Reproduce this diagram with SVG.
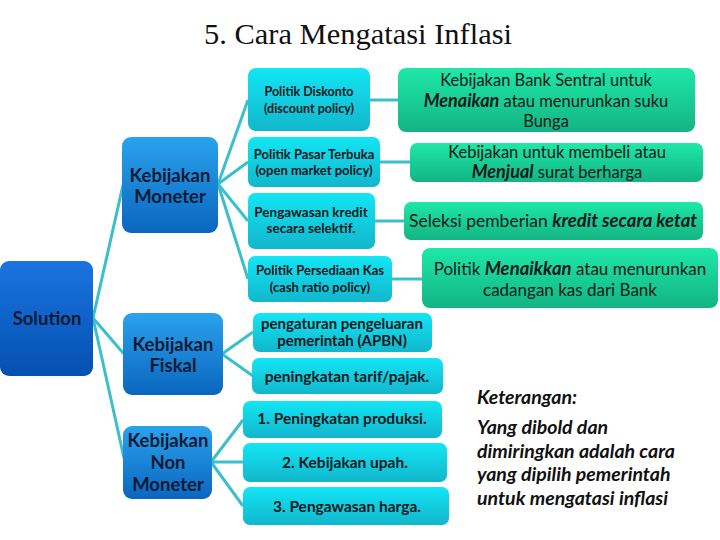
<svg xmlns="http://www.w3.org/2000/svg" width="720" height="540" viewBox="0 0 720 540">
<defs>
<linearGradient id="gSol" x1="0" y1="0" x2="0" y2="1"><stop offset="0" stop-color="#1a74e0"/><stop offset="1" stop-color="#0450b0"/></linearGradient>
<linearGradient id="gBlue" x1="0" y1="0" x2="0" y2="1"><stop offset="0" stop-color="#2aa2ec"/><stop offset="1" stop-color="#0a66c0"/></linearGradient>
<linearGradient id="gCyan" x1="0" y1="0" x2="0" y2="1"><stop offset="0" stop-color="#12e6f4"/><stop offset="1" stop-color="#12b6cc"/></linearGradient>
<linearGradient id="gGreen" x1="0" y1="0" x2="0" y2="1"><stop offset="0" stop-color="#1ee8a8"/><stop offset="1" stop-color="#13b483"/></linearGradient>
</defs>
<style>
.sol{fill:url(#gSol)}
.blue{fill:url(#gBlue)}
.cyan{fill:url(#gCyan)}
.green{fill:url(#gGreen)}
.bt{font-family:Lato,"Liberation Sans",sans-serif;font-weight:bold;fill:#0b1a33;text-anchor:middle}
.ct{font-family:Lato,"Liberation Sans",sans-serif;font-weight:bold;fill:#101820;text-anchor:middle}
.gt{font-family:Lato,"Liberation Sans",sans-serif;fill:#101a18;text-anchor:middle}
.bi{font-weight:bold;font-style:italic}
.ket{font-family:Lato,"Liberation Sans",sans-serif;font-weight:bold;font-style:italic;fill:#111}
.con{stroke:#3bbfca;stroke-width:3;fill:none}
</style>
<rect width="720" height="540" fill="#ffffff"/>
<text x="358" y="44" font-family="'Liberation Serif',serif" font-size="30" fill="#111" text-anchor="middle" textLength="308" lengthAdjust="spacingAndGlyphs">5. Cara Mengatasi Inflasi</text>

<g id="connectors">
<line class="con" x1="93" y1="318" x2="123" y2="185"/>
<line class="con" x1="93" y1="318" x2="124" y2="354"/>
<line class="con" x1="93" y1="318" x2="124" y2="458"/>
<line class="con" x1="218" y1="184" x2="248" y2="100"/>
<line class="con" x1="218" y1="184" x2="248" y2="162"/>
<line class="con" x1="218" y1="184" x2="248" y2="221"/>
<line class="con" x1="218" y1="184" x2="248" y2="279"/>
<line class="con" x1="222" y1="354" x2="253" y2="332"/>
<line class="con" x1="222" y1="354" x2="253" y2="376"/>
<line class="con" x1="211" y1="462" x2="243" y2="420"/>
<line class="con" x1="211" y1="462" x2="243" y2="462"/>
<line class="con" x1="211" y1="462" x2="243" y2="506"/>
<line class="con" x1="370" y1="100" x2="398" y2="100"/>
<line class="con" x1="380" y1="162" x2="410" y2="162"/>
<line class="con" x1="375" y1="221" x2="404" y2="221"/>
<line class="con" x1="392" y1="279" x2="422" y2="279"/>
</g>

<g id="solution"><rect class="sol" x="0" y="261" width="93" height="115" rx="9"/><text class="bt" x="47" y="325" font-size="18.5">Solution</text></g>

<g id="moneter"><rect class="blue" x="122" y="137" width="96" height="96" rx="9"/><text class="bt" font-size="18.5"><tspan x="170" y="182">Kebijakan</tspan><tspan x="170" y="203">Moneter</tspan></text></g>
<g id="fiskal"><rect class="blue" x="123" y="313" width="100" height="82" rx="9"/><text class="bt" font-size="18.5"><tspan x="173" y="351">Kebijakan</tspan><tspan x="173" y="372">Fiskal</tspan></text></g>
<g id="nonmoneter"><rect class="blue" x="123" y="426" width="89" height="73" rx="9"/><text class="bt" font-size="18.5"><tspan x="168" y="447">Kebijakan</tspan><tspan x="168" y="469">Non</tspan><tspan x="168" y="491">Moneter</tspan></text></g>

<g id="diskonto"><rect class="cyan" x="248" y="68" width="122" height="63" rx="8"/><text class="ct" font-size="12.5"><tspan x="309" y="96">Politik Diskonto</tspan><tspan x="309" y="113">(discount policy)</tspan></text></g>
<g id="pasar"><rect class="cyan" x="248" y="137" width="132" height="50" rx="7"/><text class="ct" font-size="13"><tspan x="314" y="159">Politik Pasar Terbuka</tspan><tspan x="314" y="175">(open market policy)</tspan></text></g>
<g id="pengawasan"><rect class="cyan" x="248" y="193" width="127" height="56" rx="7"/><text class="ct" font-size="13.5"><tspan x="311" y="217">Pengawasan kredit</tspan><tspan x="311" y="233">secara selektif.</tspan></text></g>
<g id="persediaan"><rect class="cyan" x="248" y="256" width="144" height="46" rx="7"/><text class="ct" font-size="13"><tspan x="320" y="275">Politik Persediaan Kas</tspan><tspan x="320" y="292">(cash ratio policy)</tspan></text></g>

<g id="pengaturan"><rect class="cyan" x="253" y="313" width="179" height="39" rx="7"/><text class="ct" font-size="15"><tspan x="342" y="329">pengaturan pengeluaran</tspan><tspan x="342" y="346">pemerintah (APBN)</tspan></text></g>
<g id="tarif"><rect class="cyan" x="252" y="358" width="191" height="36" rx="7"/><text class="ct" x="347" y="382" font-size="15.5">peningkatan tarif/pajak.</text></g>
<g id="produksi"><rect class="cyan" x="243" y="401" width="199" height="37" rx="7"/><text class="ct" x="342" y="424" font-size="15.5">1. Peningkatan produksi.</text></g>
<g id="upah"><rect class="cyan" x="243" y="443" width="204" height="39" rx="7"/><text class="ct" x="345" y="468" font-size="15.5">2. Kebijakan upah.</text></g>
<g id="harga"><rect class="cyan" x="243" y="487" width="206" height="38" rx="7"/><text class="ct" x="347" y="512" font-size="15.5">3. Pengawasan harga.</text></g>

<g id="bank"><rect class="green" x="398" y="68" width="297" height="64" rx="8"/><text class="gt" font-size="16.5"><tspan x="546" y="86">Kebijakan Bank Sentral untuk</tspan><tspan x="546" y="107"><tspan class="bi" font-size="18">Menaikan</tspan> atau menurunkan suku</tspan><tspan x="546" y="127">Bunga</tspan></text></g>
<g id="menjual"><rect class="green" x="410" y="143" width="293" height="39" rx="7"/><text class="gt" font-size="16.5"><tspan x="557" y="158">Kebijakan untuk membeli atau</tspan><tspan x="557" y="178"><tspan class="bi" font-size="18">Menjual</tspan> surat berharga</tspan></text></g>
<g id="seleksi"><rect class="green" x="404" y="202" width="299" height="38" rx="7"/><text class="gt" x="553" y="227" font-size="17.5">Seleksi pemberian <tspan class="bi" font-size="18.5">kredit secara ketat</tspan></text></g>
<g id="cadangan"><rect class="green" x="422" y="248" width="296" height="60" rx="8"/><text class="gt" font-size="17"><tspan x="570" y="275">Politik <tspan class="bi" font-size="18.5">Menaikkan</tspan> atau menurunkan</tspan><tspan x="570" y="296">cadangan kas dari Bank</tspan></text></g>

<g id="keterangan"><text class="ket" font-size="19.5"><tspan x="477" y="404">Keterangan:</tspan><tspan x="477" y="434">Yang dibold dan</tspan><tspan x="477" y="458">dimiringkan adalah cara</tspan><tspan x="477" y="481">yang dipilih pemerintah</tspan><tspan x="477" y="505">untuk mengatasi inflasi</tspan></text></g>
</svg>
